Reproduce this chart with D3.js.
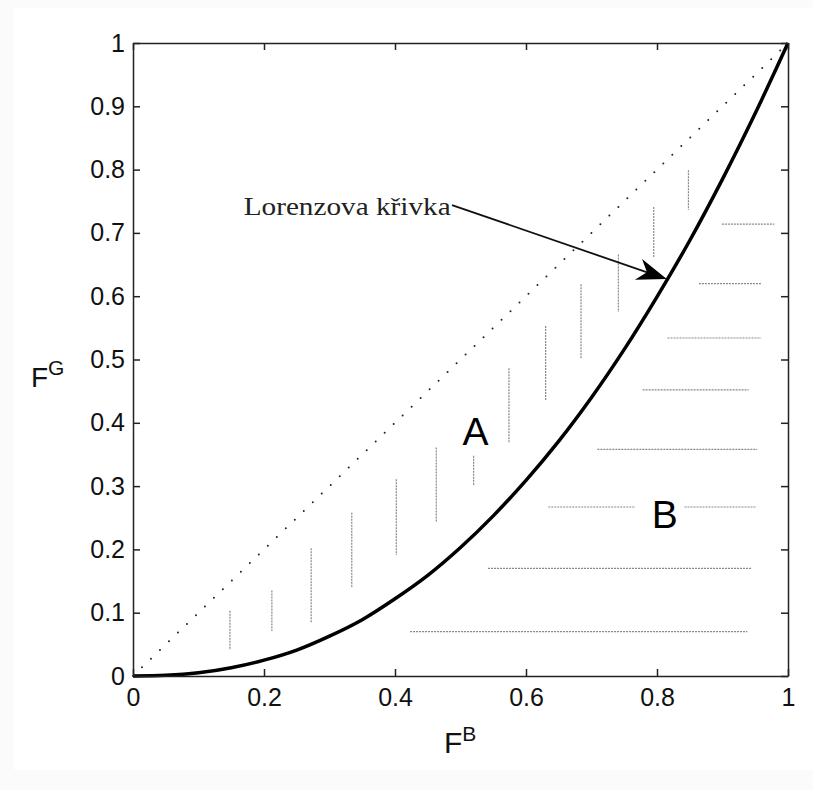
<!DOCTYPE html>
<html>
<head>
<meta charset="utf-8">
<script src="https://cdn.jsdelivr.net/npm/d3@7"></script>
<style>
  body { margin: 0; background: #fbfbfb; }
  svg { display: block; }
  .tick text { font-family: "Liberation Sans", Arial, sans-serif; font-size: 25px; fill: #111; }
  .axis path, .axis line { stroke: #222; stroke-width: 1.5; }
</style>
</head>
<body>
<div id="vis"></div>
<script>
// Lorenz curve
var curveX = [0, 0.05, 0.1, 0.15, 0.2, 0.25, 0.3, 0.35, 0.4, 0.45, 0.5, 0.55, 0.6, 0.65, 0.7, 0.75, 0.8, 0.85, 0.9, 0.95, 1];
var curveY = [0, 0.001, 0.005, 0.013, 0.025, 0.041, 0.063, 0.089, 0.122, 0.159, 0.203, 0.253, 0.309, 0.371, 0.440, 0.516, 0.599, 0.688, 0.785, 0.889, 1];

// equality line
var diagX = [0, 1];
var diagY = [0, 1];

// vertical hatching in area A
var vHatchX   = [0.148, 0.212, 0.272, 0.334, 0.402, 0.463, 0.520, 0.574, 0.630, 0.684, 0.741, 0.795, 0.848];
var vHatchTop = [0.103, 0.135, 0.202, 0.258, 0.311, 0.361, 0.348, 0.486, 0.553, 0.619, 0.666, 0.741, 0.799];
var vHatchBot = [0.041, 0.071, 0.085, 0.139, 0.191, 0.243, 0.300, 0.368, 0.435, 0.501, 0.575, 0.661, 0.736];

// horizontal hatching in area B
var hHatchY  = [0.070, 0.170, 0.267, 0.267, 0.358, 0.452, 0.534, 0.620, 0.714];
var hHatchX0 = [0.423, 0.542, 0.634, 0.842, 0.709, 0.778, 0.816, 0.864, 0.899];
var hHatchX1 = [0.938, 0.944, 0.767, 0.951, 0.953, 0.940, 0.959, 0.960, 0.979];

// ticks
var xTicks = [0, 0.2, 0.4, 0.6, 0.8, 1];
var xTickLabels = ["0", "0.2", "0.4", "0.6", "0.8", "1"];
var yTicks = [0, 0.1, 0.2, 0.3, 0.4, 0.5, 0.6, 0.7, 0.8, 0.9, 1];
var yTickLabels = ["0", "0.1", "0.2", "0.3", "0.4", "0.5", "0.6", "0.7", "0.8", "0.9", "1"];

// annotation arrow (text end -> curve)
var arrowFrom = [0.487, 0.744];
var arrowTo = [0.815, 0.627];

var width = 813;
var height = 790;
var margin = { top: 43, left: 133, bottom: 114, right: 25 };

var svg = d3.select('#vis').append('svg')
  .attr('width', width)
  .attr('height', height);

svg.append('rect')
  .attr('x', 14).attr('y', 8)
  .attr('width', width - 14).attr('height', 762)
  .attr('fill', '#fff');

var x = d3.scaleLinear().domain([0, 1]).range([margin.left, width - margin.right]);
var y = d3.scaleLinear().domain([0, 1]).range([height - margin.bottom, margin.top]);

var g = svg.append('g');

// hatching
g.selectAll('.vhatch')
  .data(vHatchX)
  .enter().append('line')
  .attr('class', 'vhatch')
  .attr('x1', function (d) { return x(d); })
  .attr('x2', function (d) { return x(d); })
  .attr('y1', function (d, i) { return y(vHatchTop[i]); })
  .attr('y2', function (d, i) { return y(vHatchBot[i]); })
  .attr('stroke', '#888')
  .attr('stroke-width', 1.2)
  .attr('stroke-dasharray', '2,1');

g.selectAll('.hhatch')
  .data(hHatchY)
  .enter().append('line')
  .attr('class', 'hhatch')
  .attr('x1', function (d, i) { return x(hHatchX0[i]); })
  .attr('x2', function (d, i) { return x(hHatchX1[i]); })
  .attr('y1', function (d) { return y(d); })
  .attr('y2', function (d) { return y(d); })
  .attr('stroke', '#888')
  .attr('stroke-width', 1.2)
  .attr('stroke-dasharray', '2,1');

// dotted diagonal
var line = d3.line()
  .x(function (d) { return x(d[0]); })
  .y(function (d) { return y(d[1]); });

g.append('path')
  .datum(d3.zip(diagX, diagY))
  .attr('d', line)
  .attr('fill', 'none')
  .attr('stroke', '#222')
  .attr('stroke-width', 2)
  .attr('stroke-linecap', 'round')
  .attr('stroke-dasharray', '0 12.5');

// Lorenz curve
g.append('path')
  .datum(d3.zip(curveX, curveY))
  .attr('d', line.curve(d3.curveCatmullRom))
  .attr('fill', 'none')
  .attr('stroke', '#000')
  .attr('stroke-width', 3.5);

// axes, ticks inside on all four sides
var fmtX = function (d) { return xTickLabels[xTicks.indexOf(d)]; };
var fmtY = function (d) { return yTickLabels[yTicks.indexOf(d)]; };

g.append('g').attr('class', 'axis')
  .attr('transform', 'translate(0,' + y(0) + ')')
  .call(d3.axisBottom(x).tickValues(xTicks).tickFormat(fmtX).tickSizeInner(-7).tickSizeOuter(0).tickPadding(12));
g.append('g').attr('class', 'axis')
  .attr('transform', 'translate(0,' + y(1) + ')')
  .call(d3.axisTop(x).tickValues(xTicks).tickFormat('').tickSizeInner(-7).tickSizeOuter(0));
g.append('g').attr('class', 'axis')
  .attr('transform', 'translate(' + x(0) + ',0)')
  .call(d3.axisLeft(y).tickValues(yTicks).tickFormat(fmtY).tickSizeInner(-7).tickSizeOuter(0).tickPadding(8));
g.append('g').attr('class', 'axis')
  .attr('transform', 'translate(' + x(1) + ',0)')
  .call(d3.axisRight(y).tickValues(yTicks).tickFormat('').tickSizeInner(-7).tickSizeOuter(0));

g.selectAll('.axis text').attr('fill', '#111');

// annotation arrow
var p0 = [x(arrowFrom[0]), y(arrowFrom[1])];
var p1 = [x(arrowTo[0]), y(arrowTo[1])];
var dx = p1[0] - p0[0], dy = p1[1] - p0[1];
var len = Math.sqrt(dx * dx + dy * dy);
var ux = dx / len, uy = dy / len;
var nx = -uy, ny = ux;

g.append('line')
  .attr('x1', p0[0]).attr('y1', p0[1])
  .attr('x2', p1[0] - 20 * ux).attr('y2', p1[1] - 20 * uy)
  .attr('stroke', '#111')
  .attr('stroke-width', 1.8);

g.append('path')
  .attr('d', 'M' + p1[0] + ',' + p1[1] +
    'L' + (p1[0] - 30 * ux + 11 * nx) + ',' + (p1[1] - 30 * uy + 11 * ny) +
    'L' + (p1[0] - 21 * ux) + ',' + (p1[1] - 21 * uy) +
    'L' + (p1[0] - 30 * ux - 11 * nx) + ',' + (p1[1] - 30 * uy - 11 * ny) + 'Z')
  .attr('fill', '#000');

// texts
g.append('text')
  .attr('x', x(0.169))
  .attr('y', y(0.728))
  .attr('font-family', '"Liberation Serif", "DejaVu Serif", serif')
  .attr('font-size', 26)
  .attr('fill', '#222')
  .attr('textLength', 207)
  .attr('lengthAdjust', 'spacingAndGlyphs')
  .text('Lorenzova křivka');

g.append('text')
  .attr('x', x(0.503))
  .attr('y', y(0.365))
  .attr('font-family', '"Liberation Sans", Arial, sans-serif')
  .attr('font-size', 39)
  .attr('fill', '#000')
  .text('A');

g.append('text')
  .attr('x', x(0.792))
  .attr('y', y(0.234))
  .attr('font-family', '"Liberation Sans", Arial, sans-serif')
  .attr('font-size', 39)
  .attr('fill', '#000')
  .text('B');

// axis labels F^B and F^G
var xl = svg.append('text')
  .attr('x', 444).attr('y', 753)
  .attr('font-family', '"Liberation Sans", Arial, sans-serif')
  .attr('font-size', 30)
  .attr('fill', '#111');
xl.append('tspan').text('F');
xl.append('tspan').attr('font-size', 21).attr('dy', -12).text('B');

var yl = svg.append('text')
  .attr('x', 31).attr('y', 387)
  .attr('font-family', '"Liberation Sans", Arial, sans-serif')
  .attr('font-size', 28)
  .attr('fill', '#111');
yl.append('tspan').text('F');
yl.append('tspan').attr('font-size', 21).attr('dy', -12).text('G');
</script>
</body>
</html>
